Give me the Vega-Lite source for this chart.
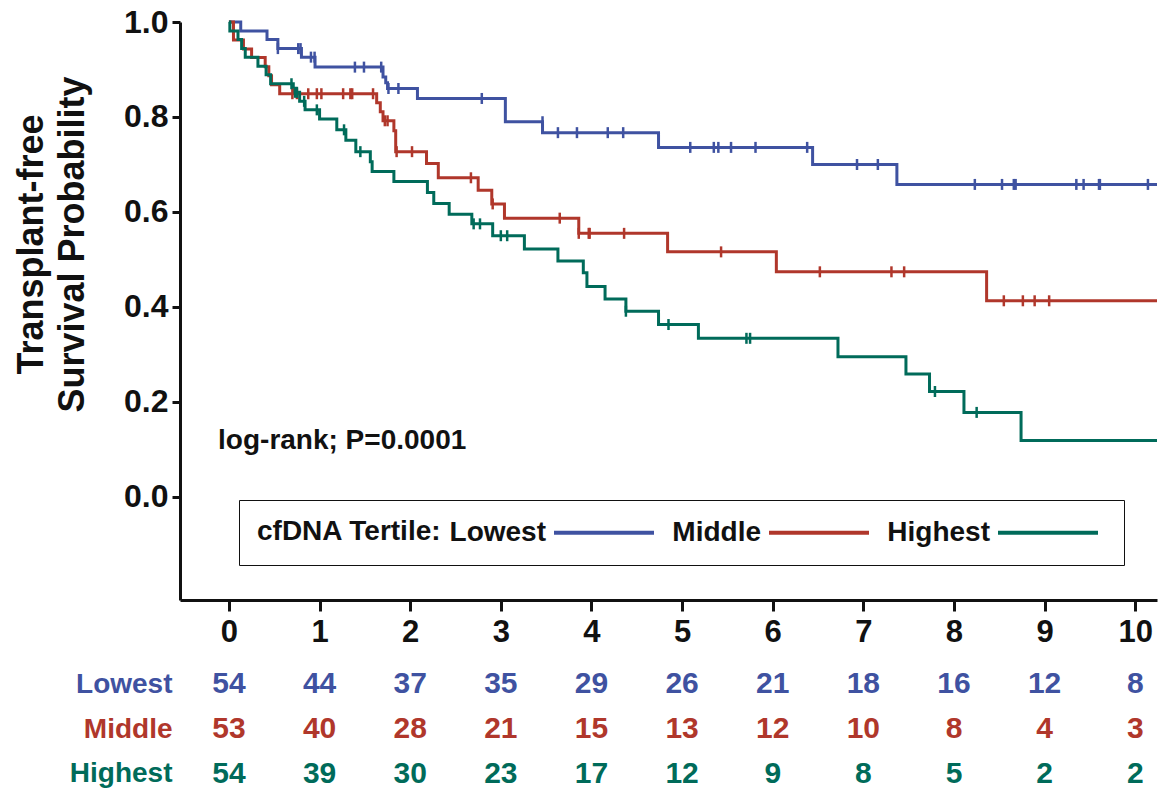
{
  "$schema": "https://vega.github.io/schema/vega-lite/v6.json",
  "padding": {"left": 10, "top": 6, "right": 0, "bottom": 0},
  "background": "white",
  "spacing": 22,
  "config": {
    "view": {"stroke": null},
    "font": "Liberation Sans",
    "axis": {"grid": false, "domainColor": "#111", "tickColor": "#111", "labelColor": "#111", "titleColor": "#111"}
  },
  "resolve": {"scale": {"color": "independent"}, "legend": {"color": "independent"}},
  "datasets": {
    "curves": [
      {"group": "Lowest", "t": 0, "s": 1.0},
      {"group": "Lowest", "t": 0.13, "s": 0.981},
      {"group": "Lowest", "t": 0.42, "s": 0.963},
      {"group": "Lowest", "t": 0.54, "s": 0.944},
      {"group": "Lowest", "t": 0.80, "s": 0.926},
      {"group": "Lowest", "t": 0.95, "s": 0.905},
      {"group": "Lowest", "t": 1.70, "s": 0.884},
      {"group": "Lowest", "t": 1.73, "s": 0.872},
      {"group": "Lowest", "t": 1.75, "s": 0.860},
      {"group": "Lowest", "t": 2.08, "s": 0.839},
      {"group": "Lowest", "t": 3.05, "s": 0.790},
      {"group": "Lowest", "t": 3.46, "s": 0.767},
      {"group": "Lowest", "t": 4.74, "s": 0.736},
      {"group": "Lowest", "t": 6.44, "s": 0.700},
      {"group": "Lowest", "t": 7.37, "s": 0.658},
      {"group": "Lowest", "t": 10.24, "s": 0.658},
      {"group": "Middle", "t": 0, "s": 1.0},
      {"group": "Middle", "t": 0.05, "s": 0.962},
      {"group": "Middle", "t": 0.16, "s": 0.943},
      {"group": "Middle", "t": 0.25, "s": 0.925},
      {"group": "Middle", "t": 0.40, "s": 0.906},
      {"group": "Middle", "t": 0.44, "s": 0.887},
      {"group": "Middle", "t": 0.47, "s": 0.868},
      {"group": "Middle", "t": 0.56, "s": 0.849},
      {"group": "Middle", "t": 1.63, "s": 0.830},
      {"group": "Middle", "t": 1.67, "s": 0.811},
      {"group": "Middle", "t": 1.70, "s": 0.792},
      {"group": "Middle", "t": 1.82, "s": 0.771},
      {"group": "Middle", "t": 1.84, "s": 0.727},
      {"group": "Middle", "t": 2.18, "s": 0.702},
      {"group": "Middle", "t": 2.31, "s": 0.672},
      {"group": "Middle", "t": 2.75, "s": 0.646},
      {"group": "Middle", "t": 2.90, "s": 0.617},
      {"group": "Middle", "t": 3.04, "s": 0.587},
      {"group": "Middle", "t": 3.86, "s": 0.555},
      {"group": "Middle", "t": 4.84, "s": 0.516},
      {"group": "Middle", "t": 6.04, "s": 0.474},
      {"group": "Middle", "t": 8.36, "s": 0.413},
      {"group": "Middle", "t": 10.24, "s": 0.413},
      {"group": "Highest", "t": 0, "s": 1.0},
      {"group": "Highest", "t": 0.01, "s": 0.981},
      {"group": "Highest", "t": 0.10, "s": 0.963},
      {"group": "Highest", "t": 0.14, "s": 0.944},
      {"group": "Highest", "t": 0.18, "s": 0.926},
      {"group": "Highest", "t": 0.32, "s": 0.907},
      {"group": "Highest", "t": 0.41, "s": 0.889},
      {"group": "Highest", "t": 0.46, "s": 0.870},
      {"group": "Highest", "t": 0.71, "s": 0.852},
      {"group": "Highest", "t": 0.78, "s": 0.833},
      {"group": "Highest", "t": 0.84, "s": 0.815},
      {"group": "Highest", "t": 1.00, "s": 0.796},
      {"group": "Highest", "t": 1.19, "s": 0.773},
      {"group": "Highest", "t": 1.29, "s": 0.751},
      {"group": "Highest", "t": 1.40, "s": 0.727},
      {"group": "Highest", "t": 1.56, "s": 0.706},
      {"group": "Highest", "t": 1.58, "s": 0.685},
      {"group": "Highest", "t": 1.82, "s": 0.664},
      {"group": "Highest", "t": 2.19, "s": 0.641},
      {"group": "Highest", "t": 2.26, "s": 0.618},
      {"group": "Highest", "t": 2.43, "s": 0.595},
      {"group": "Highest", "t": 2.68, "s": 0.575},
      {"group": "Highest", "t": 2.91, "s": 0.550},
      {"group": "Highest", "t": 3.26, "s": 0.522},
      {"group": "Highest", "t": 3.63, "s": 0.497},
      {"group": "Highest", "t": 3.91, "s": 0.472},
      {"group": "Highest", "t": 3.95, "s": 0.443},
      {"group": "Highest", "t": 4.15, "s": 0.417},
      {"group": "Highest", "t": 4.38, "s": 0.391},
      {"group": "Highest", "t": 4.74, "s": 0.363},
      {"group": "Highest", "t": 5.18, "s": 0.334},
      {"group": "Highest", "t": 6.72, "s": 0.295},
      {"group": "Highest", "t": 7.47, "s": 0.259},
      {"group": "Highest", "t": 7.73, "s": 0.222},
      {"group": "Highest", "t": 8.11, "s": 0.178},
      {"group": "Highest", "t": 8.74, "s": 0.119},
      {"group": "Highest", "t": 10.24, "s": 0.119}
    ],
    "censors": [
      {"group": "Lowest", "t": 0.54, "s": 0.944},
      {"group": "Lowest", "t": 0.765, "s": 0.944},
      {"group": "Lowest", "t": 0.79, "s": 0.944},
      {"group": "Lowest", "t": 0.905, "s": 0.926},
      {"group": "Lowest", "t": 0.945, "s": 0.926},
      {"group": "Lowest", "t": 1.39, "s": 0.905},
      {"group": "Lowest", "t": 1.49, "s": 0.905},
      {"group": "Lowest", "t": 1.68, "s": 0.905},
      {"group": "Lowest", "t": 1.76, "s": 0.860},
      {"group": "Lowest", "t": 1.87, "s": 0.860},
      {"group": "Lowest", "t": 2.79, "s": 0.839},
      {"group": "Lowest", "t": 3.46, "s": 0.790},
      {"group": "Lowest", "t": 3.63, "s": 0.767},
      {"group": "Lowest", "t": 3.84, "s": 0.767},
      {"group": "Lowest", "t": 4.18, "s": 0.767},
      {"group": "Lowest", "t": 4.35, "s": 0.767},
      {"group": "Lowest", "t": 5.09, "s": 0.736},
      {"group": "Lowest", "t": 5.35, "s": 0.736},
      {"group": "Lowest", "t": 5.40, "s": 0.736},
      {"group": "Lowest", "t": 5.54, "s": 0.736},
      {"group": "Lowest", "t": 5.81, "s": 0.736},
      {"group": "Lowest", "t": 6.38, "s": 0.736},
      {"group": "Lowest", "t": 6.93, "s": 0.700},
      {"group": "Lowest", "t": 7.16, "s": 0.700},
      {"group": "Lowest", "t": 8.23, "s": 0.658},
      {"group": "Lowest", "t": 8.53, "s": 0.658},
      {"group": "Lowest", "t": 8.66, "s": 0.658},
      {"group": "Lowest", "t": 8.68, "s": 0.658},
      {"group": "Lowest", "t": 9.35, "s": 0.658},
      {"group": "Lowest", "t": 9.43, "s": 0.658},
      {"group": "Lowest", "t": 9.60, "s": 0.658},
      {"group": "Lowest", "t": 9.61, "s": 0.658},
      {"group": "Lowest", "t": 10.14, "s": 0.658},
      {"group": "Middle", "t": 0.70, "s": 0.849},
      {"group": "Middle", "t": 0.75, "s": 0.849},
      {"group": "Middle", "t": 0.875, "s": 0.849},
      {"group": "Middle", "t": 0.97, "s": 0.849},
      {"group": "Middle", "t": 1.02, "s": 0.849},
      {"group": "Middle", "t": 1.26, "s": 0.849},
      {"group": "Middle", "t": 1.34, "s": 0.849},
      {"group": "Middle", "t": 1.36, "s": 0.849},
      {"group": "Middle", "t": 1.59, "s": 0.849},
      {"group": "Middle", "t": 1.72, "s": 0.792},
      {"group": "Middle", "t": 1.75, "s": 0.792},
      {"group": "Middle", "t": 1.85, "s": 0.727},
      {"group": "Middle", "t": 2.02, "s": 0.727},
      {"group": "Middle", "t": 2.67, "s": 0.672},
      {"group": "Middle", "t": 2.91, "s": 0.617},
      {"group": "Middle", "t": 3.65, "s": 0.587},
      {"group": "Middle", "t": 3.86, "s": 0.555},
      {"group": "Middle", "t": 3.97, "s": 0.555},
      {"group": "Middle", "t": 3.98, "s": 0.555},
      {"group": "Middle", "t": 4.36, "s": 0.555},
      {"group": "Middle", "t": 5.43, "s": 0.516},
      {"group": "Middle", "t": 6.52, "s": 0.474},
      {"group": "Middle", "t": 7.31, "s": 0.474},
      {"group": "Middle", "t": 7.45, "s": 0.474},
      {"group": "Middle", "t": 8.55, "s": 0.413},
      {"group": "Middle", "t": 8.76, "s": 0.413},
      {"group": "Middle", "t": 8.89, "s": 0.413},
      {"group": "Middle", "t": 9.05, "s": 0.413},
      {"group": "Highest", "t": 0.69, "s": 0.870},
      {"group": "Highest", "t": 0.73, "s": 0.852},
      {"group": "Highest", "t": 0.75, "s": 0.852},
      {"group": "Highest", "t": 0.83, "s": 0.833},
      {"group": "Highest", "t": 0.97, "s": 0.815},
      {"group": "Highest", "t": 1.27, "s": 0.773},
      {"group": "Highest", "t": 1.45, "s": 0.727},
      {"group": "Highest", "t": 2.70, "s": 0.575},
      {"group": "Highest", "t": 2.77, "s": 0.575},
      {"group": "Highest", "t": 3.00, "s": 0.550},
      {"group": "Highest", "t": 3.07, "s": 0.550},
      {"group": "Highest", "t": 4.38, "s": 0.391},
      {"group": "Highest", "t": 4.85, "s": 0.363},
      {"group": "Highest", "t": 5.71, "s": 0.334},
      {"group": "Highest", "t": 5.75, "s": 0.334},
      {"group": "Highest", "t": 7.79, "s": 0.222},
      {"group": "Highest", "t": 8.25, "s": 0.178}
    ],
    "risk": [
      {"group": "Lowest", "t": 0, "n": 54}, {"group": "Lowest", "t": 1, "n": 44}, {"group": "Lowest", "t": 2, "n": 37},
      {"group": "Lowest", "t": 3, "n": 35}, {"group": "Lowest", "t": 4, "n": 29}, {"group": "Lowest", "t": 5, "n": 26},
      {"group": "Lowest", "t": 6, "n": 21}, {"group": "Lowest", "t": 7, "n": 18}, {"group": "Lowest", "t": 8, "n": 16},
      {"group": "Lowest", "t": 9, "n": 12}, {"group": "Lowest", "t": 10, "n": 8},
      {"group": "Middle", "t": 0, "n": 53}, {"group": "Middle", "t": 1, "n": 40}, {"group": "Middle", "t": 2, "n": 28},
      {"group": "Middle", "t": 3, "n": 21}, {"group": "Middle", "t": 4, "n": 15}, {"group": "Middle", "t": 5, "n": 13},
      {"group": "Middle", "t": 6, "n": 12}, {"group": "Middle", "t": 7, "n": 10}, {"group": "Middle", "t": 8, "n": 8},
      {"group": "Middle", "t": 9, "n": 4}, {"group": "Middle", "t": 10, "n": 3},
      {"group": "Highest", "t": 0, "n": 54}, {"group": "Highest", "t": 1, "n": 39}, {"group": "Highest", "t": 2, "n": 30},
      {"group": "Highest", "t": 3, "n": 23}, {"group": "Highest", "t": 4, "n": 17}, {"group": "Highest", "t": 5, "n": 12},
      {"group": "Highest", "t": 6, "n": 9}, {"group": "Highest", "t": 7, "n": 8}, {"group": "Highest", "t": 8, "n": 5},
      {"group": "Highest", "t": 9, "n": 2}, {"group": "Highest", "t": 10, "n": 2}
    ]
  },
  "vconcat": [
    {
      "width": 977,
      "height": 578,
      "layer": [
        {
          "data": {"name": "curves"},
          "mark": {"type": "line", "interpolate": "step-after", "strokeWidth": 3, "opacity": 1},
          "encoding": {
            "x": {
              "field": "t", "type": "quantitative",
              "scale": {"domain": [-0.54, 10.24], "nice": false, "zero": false},
              "axis": {
                "values": [0, 1, 2, 3, 4, 5, 6, 7, 8, 9, 10], "format": "d", "title": null,
                "domainWidth": 3, "tickWidth": 3, "tickSize": 11,
                "labelFontSize": 31, "labelFontWeight": "bold", "labelPadding": 6, "labelFlush": false
              }
            },
            "y": {
              "field": "s", "type": "quantitative",
              "scale": {"domain": [-0.217, 1.0], "nice": false, "zero": false},
              "axis": {
                "values": [0, 0.2, 0.4, 0.6, 0.8, 1.0], "format": ".1f",
                "title": ["Transplant-free", "Survival Probability"],
                "titleFontSize": 36, "titleFontWeight": "bold", "titleLineHeight": 41, "titlePadding": 32,
                "titleY": 222,
                "domainWidth": 3, "tickWidth": 3, "tickSize": 8,
                "labelFontSize": 32, "labelFontWeight": "bold", "labelPadding": 4, "labelFlush": false
              }
            },
            "color": {
              "field": "group", "type": "nominal",
              "scale": {"domain": ["Lowest", "Middle", "Highest"], "range": ["#3f52a1", "#b0372b", "#006b5a"]},
              "legend": {
                "orient": "none", "legendX": 59, "legendY": 478,
                "direction": "horizontal", "columns": 3,
                "title": "cfDNA Tertile:", "titleOrient": "left", "titleFontSize": 28, "titleFontWeight": "bold",
                "titleColor": "#111", "titlePadding": 147.5, "titleBaseline": "middle", "titleAnchor": "middle",
                "titleLimit": 500,
                "labelFontSize": 28, "labelFontWeight": "bold", "labelColor": "#111",
                "labelAlign": "right", "labelOffset": -72.5, "labelLimit": 400,
                "symbolType": "M-4,0H4", "symbolSize": 625, "symbolStrokeWidth": 4, "symbolOpacity": 1,
                "columnPadding": 9, "padding": 18,
                "strokeColor": "#111", "fillColor": "white"
              }
            }
          }
        },
        {
          "data": {"name": "censors"},
          "mark": {"type": "tick", "orient": "vertical", "size": 11, "thickness": 2.5, "opacity": 1},
          "encoding": {
            "x": {"field": "t", "type": "quantitative"},
            "y": {"field": "s", "type": "quantitative"},
            "color": {"field": "group", "type": "nominal"}
          }
        },
        {
          "data": {"values": [{"label": "log-rank; P=0.0001"}]},
          "mark": {"type": "text", "align": "left", "baseline": "middle", "fontSize": 28, "fontWeight": "bold", "color": "#111"},
          "encoding": {
            "x": {"datum": -0.12, "type": "quantitative"},
            "y": {"datum": 0.118, "type": "quantitative"},
            "text": {"field": "label", "type": "nominal"}
          }
        }
      ]
    },
    {
      "width": 977,
      "height": 116,
      "data": {"name": "risk"},
      "mark": {"type": "text", "fontSize": 30, "fontWeight": "bold", "baseline": "middle", "align": "center"},
      "encoding": {
        "x": {
          "field": "t", "type": "quantitative",
          "scale": {"domain": [-0.54, 10.24], "nice": false, "zero": false},
          "axis": null
        },
        "y": {
          "field": "group", "type": "ordinal",
          "scale": {"type": "point", "domain": ["Lowest", "Middle", "Highest"], "padding": 0.3},
          "axis": {
            "title": null, "domain": false, "ticks": false,
            "labelFontSize": 28, "labelFontWeight": "bold", "labelPadding": 8, "minExtent": 170,
            "labelColor": {
              "condition": [
                {"test": "datum.value === 'Lowest'", "value": "#3f52a1"},
                {"test": "datum.value === 'Middle'", "value": "#b0372b"}
              ],
              "value": "#006b5a"
            }
          }
        },
        "color": {
          "field": "group", "type": "nominal",
          "scale": {"domain": ["Lowest", "Middle", "Highest"], "range": ["#3f52a1", "#b0372b", "#006b5a"]},
          "legend": null
        },
        "text": {"field": "n", "type": "quantitative"}
      }
    }
  ]
}
